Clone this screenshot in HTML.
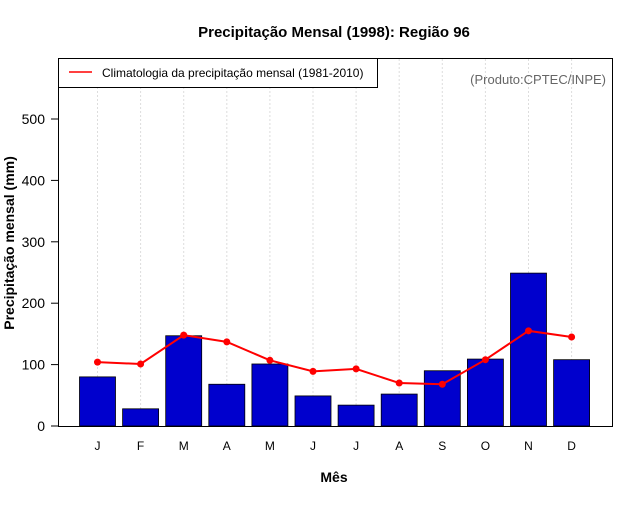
<!DOCTYPE html>
<html><head><meta charset="utf-8"><style>
body{margin:0;background:#fff;}
svg text{font-family:"Liberation Sans",sans-serif;}
</style></head><body>
<svg id="chart" width="640" height="500" xmlns="http://www.w3.org/2000/svg">
<rect width="640" height="500" fill="#fff"/>
<text x="334" y="37" text-anchor="middle" font-size="15" font-weight="bold">Precipitação Mensal (1998): Região 96</text>
<text x="334" y="482" text-anchor="middle" font-size="14" font-weight="bold">Mês</text>
<text transform="translate(14,243) rotate(-90)" text-anchor="middle" font-size="14" font-weight="bold">Precipitação mensal (mm)</text>
<g id="grid"></g>
<g id="bars"></g>
<g id="line"></g>
<g id="axes"></g>
<rect x="58.5" y="58.5" width="554" height="368" fill="none" stroke="#000"/>
<g>
<rect x="58.5" y="58.5" width="319" height="29" fill="#fff" stroke="#000"/>
<line x1="69" y1="72" x2="92" y2="72" stroke="#f00" stroke-width="1.5"/>
<text x="102" y="77" font-size="12">Climatologia da precipitação mensal (1981-2010)</text>
</g>
<text x="606" y="84" text-anchor="end" font-size="13" fill="#666">(Produto:CPTEC/INPE)</text>
</svg>
<script>
const months=["J","F","M","A","M","J","J","A","S","O","N","D"];
const precip=[80,28,147,68,101,49,34,52,90,109,249,108];
const clim=[104,101,148,137,107,89,93,70,68,108,155,145];
const yTicks=[0,100,200,300,400,500];
const NS="http://www.w3.org/2000/svg";
function x(i){return 97.5+i*43.1;}
function y(v){return 426-v*0.614;}
function mk(t,a,p){const e=document.createElementNS(NS,t);for(const k in a)e.setAttribute(k,a[k]);p.appendChild(e);return e;}
const grid=document.getElementById('grid'),bars=document.getElementById('bars'),line=document.getElementById('line'),axes=document.getElementById('axes');
months.forEach((m,i)=>{
 const g=mk('line',{x1:x(i),x2:x(i),y1:59,y2:426,stroke:'#ddd','stroke-dasharray':'2,2'},grid);
 
 
});
precip.forEach((v,i)=>{
 const r=mk('rect',{x:x(i)-18,y:y(v),width:36,height:426-y(v),fill:'#0000cd',stroke:'#000','stroke-width':0.8},bars);
 
 
});
const pl=mk('polyline',{points:clim.map((v,i)=>x(i)+','+y(v)).join(' '),fill:'none',stroke:'#f00','stroke-width':2},line);


clim.forEach((v,i)=>{
 const c=mk('circle',{cx:x(i),cy:y(v),r:3.5,fill:'#f00'},line);
 
 
});
yTicks.forEach(t=>{
 mk('line',{x1:51,x2:58,y1:y(t),y2:y(t),stroke:'#000'},axes);
 const tx=mk('text',{x:45,y:y(t)+5,'text-anchor':'end','font-size':14},axes);
 tx.textContent=t;
 
 
});
months.forEach((m,i)=>{
 const tx=mk('text',{x:x(i),y:450,'text-anchor':'middle','font-size':12},axes);
 tx.textContent=m;
 
 
});
</script>
</body></html>
